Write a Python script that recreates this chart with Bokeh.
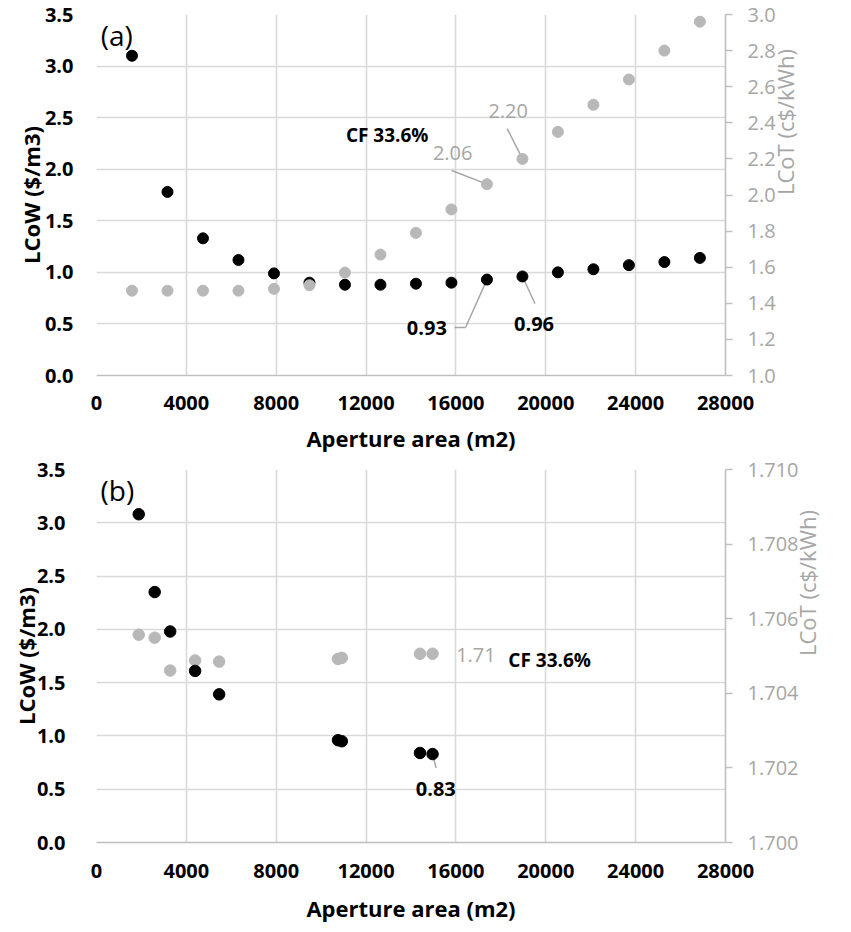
import math
from bokeh.plotting import figure
from bokeh.models import Range1d, LinearAxis, FixedTicker, NumeralTickFormatter
from bokeh.layouts import column
from bokeh.embed import file_html
from bokeh.resources import INLINE
from bokeh.core.properties import value

# ---------------- data ----------------
x_ticks = [0, 4000, 8000, 12000, 16000, 20000, 24000, 28000]
lcow_ticks = [0.0, 0.5, 1.0, 1.5, 2.0, 2.5, 3.0, 3.5]
lcot_ticks_a = [1.0, 1.2, 1.4, 1.6, 1.8, 2.0, 2.2, 2.4, 2.6, 2.8, 3.0]
lcot_ticks_b = [1.700, 1.702, 1.704, 1.706, 1.708, 1.710]

# panel (a)
aperture_a = [1580, 3160, 4740, 6320, 7900, 9480, 11060, 12640, 14220,
              15800, 17380, 18960, 20540, 22120, 23700, 25280, 26860]
lcow_a = [3.10, 1.78, 1.33, 1.12, 0.99, 0.90, 0.88, 0.88, 0.89,
          0.90, 0.93, 0.96, 1.00, 1.03, 1.07, 1.10, 1.14]
lcot_a = [1.47, 1.47, 1.47, 1.47, 1.48, 1.50, 1.57, 1.67, 1.79,
          1.92, 2.06, 2.20, 2.35, 2.50, 2.64, 2.80, 2.96]

# panel (b)
aperture_b = [1880, 2590, 3280, 4390, 5460, 10750, 10920, 14400, 14960]
lcow_b = [3.08, 2.35, 1.98, 1.61, 1.39, 0.96, 0.95, 0.84, 0.83]
lcot_b = [1.70557, 1.70549, 1.70461, 1.70488, 1.70485, 1.70492, 1.70495,
          1.70506, 1.70506]

FONT_NAME = "Open Sans"
FONT = value(FONT_NAME)
BLACK = "#000000"
GRAY_PT = "#b8b8b8"
GRAY_TX = "#a6a6a6"
GRID = "#d9d9d9"
AXLINE = "#bfbfbf"
WIDTH = 850


def base_fig(height, lb, rb, tb, bb, lcot_range, lcot_ticks, lcot_fmt,
             left_standoff, left_label_standoff, right_standoff, right_label_standoff,
             x_standoff, x_label_standoff):
    p = figure(width=WIDTH, height=height, x_range=Range1d(0, 28000),
               y_range=Range1d(0, 3.5), output_backend="svg",
               toolbar_location=None, min_border_left=lb, min_border_right=rb,
               min_border_top=tb, min_border_bottom=bb)
    p.outline_line_color = None
    p.background_fill_color = "white"
    p.border_fill_color = "white"
    p.extra_y_ranges = {"lcot": Range1d(*lcot_range)}

    for g in p.grid:
        g.grid_line_color = GRID
        g.grid_line_width = 1.6
    p.xgrid.ticker = FixedTicker(ticks=x_ticks)
    p.ygrid.ticker = FixedTicker(ticks=lcow_ticks)

    xa = p.below[0]
    xa.ticker = FixedTicker(ticks=x_ticks)
    xa.formatter = NumeralTickFormatter(format="0")
    xa.axis_label = "Aperture area (m2)"
    xa.axis_line_color = AXLINE
    xa.axis_line_width = 1.6
    xa.major_tick_line_color = None
    xa.minor_tick_line_color = None
    xa.major_tick_out = 0
    xa.major_tick_in = 0
    xa.minor_tick_out = 0
    xa.major_label_standoff = x_standoff
    xa.axis_label_standoff = x_label_standoff

    ya = p.left[0]
    ya.ticker = FixedTicker(ticks=lcow_ticks)
    ya.formatter = NumeralTickFormatter(format="0.0")
    ya.axis_label = "LCoW ($/m3)"
    ya.axis_line_color = None
    ya.major_tick_line_color = None
    ya.minor_tick_line_color = None
    ya.major_tick_out = 0
    ya.major_tick_in = 0
    ya.minor_tick_out = 0
    ya.major_label_standoff = left_standoff
    ya.axis_label_standoff = left_label_standoff

    for ax in (xa, ya):
        ax.major_label_text_font = FONT_NAME
        ax.major_label_text_font_size = "20px"
        ax.major_label_text_font_style = "bold"
        ax.major_label_text_color = BLACK
        ax.axis_label_text_font = FONT_NAME
        ax.axis_label_text_font_size = "22px"
        ax.axis_label_text_font_style = "bold"
        ax.axis_label_text_color = BLACK

    ra = LinearAxis(y_range_name="lcot", ticker=FixedTicker(ticks=lcot_ticks),
                    formatter=NumeralTickFormatter(format=lcot_fmt),
                    axis_label="LCoT (c$/kWh)")
    ra.axis_line_color = AXLINE
    ra.axis_line_width = 1.6
    ra.major_tick_line_color = AXLINE
    ra.major_tick_line_width = 1.6
    ra.major_tick_out = 7
    ra.major_tick_in = 0
    ra.minor_tick_line_color = None
    ra.minor_tick_out = 0
    ra.major_label_standoff = right_standoff
    ra.axis_label_standoff = right_label_standoff
    ra.major_label_text_font = FONT_NAME
    ra.major_label_text_font_size = "20px"
    ra.major_label_text_color = GRAY_TX
    ra.axis_label_text_font = FONT_NAME
    ra.axis_label_text_font_size = "22px"
    ra.axis_label_text_font_style = "normal"
    ra.axis_label_text_color = GRAY_TX
    try:
        ra.axis_label_orientation = math.pi / 2
    except Exception:
        pass
    p.add_layout(ra, "right")
    return p


# ---------------- panel (a) ----------------
p1 = base_fig(455, 91, WIDTH - 725, 14, 80, (1.0, 3.0), lcot_ticks_a, "0.0",
              23, -4, 15, 6, 20, 10)

# leader lines (drawn below the markers)
p1.line([16428, 15942], [0.465, 0.465], line_color=GRAY_TX, line_width=1.5)
p1.line([16428, aperture_a[10]], [0.465, lcow_a[10]], line_color=GRAY_TX, line_width=1.5)
p1.line([19519, aperture_a[11]], [0.698, lcow_a[11]], line_color=GRAY_TX, line_width=1.5)
p1.line([15810, aperture_a[10]], [2.136, lcot_a[10]], line_color=GRAY_TX,
        line_width=1.5, y_range_name="lcot")
p1.line([18282, aperture_a[11]], [2.368, lcot_a[11]], line_color=GRAY_TX,
        line_width=1.5, y_range_name="lcot")

p1.scatter(aperture_a, lcow_a, size=11, fill_color=BLACK, line_color=BLACK)
p1.scatter(aperture_a, lcot_a, size=11, fill_color=GRAY_PT, line_color=GRAY_PT,
           y_range_name="lcot")

p1.text(x=[900], y=[3.3], text=["(a)"], text_font=FONT, text_font_size="28px",
        text_color=BLACK, text_align="center", text_baseline="middle")
p1.text(x=[12940], y=[2.327], text=["CF 33.6%"], text_font=FONT,
        text_font_size="19px", text_font_style="bold", text_color=BLACK,
        text_align="center", text_baseline="middle")
p1.text(x=[14705, 19475], y=[0.465, 0.504], text=["0.93", "0.96"], text_font=FONT,
        text_font_size="20px", text_font_style="bold", text_color=BLACK,
        text_align="center", text_baseline="middle")
p1.text(x=[15855, 18327], y=[2.23, 2.463], text=["2.06", "2.20"], text_font=FONT,
        text_font_size="20px", text_color=GRAY_TX, text_align="center",
        text_baseline="middle", y_range_name="lcot")

# ---------------- panel (b) ----------------
p2 = base_fig(475, 96, WIDTH - 728, 14, 88, (1.700, 1.710), lcot_ticks_b, "0.000",
              31, -7, 15, 6, 21, 12)

p2.line([15116, aperture_b[8]], [0.70, lcow_b[8]], line_color=GRAY_TX, line_width=1.5)

p2.scatter(aperture_b, lcot_b, size=11.5, fill_color=GRAY_PT, line_color=GRAY_PT,
           y_range_name="lcot")
p2.scatter(aperture_b, lcow_b, size=11.5, fill_color=BLACK, line_color=BLACK)

p2.text(x=[930], y=[3.305], text=["(b)"], text_font=FONT, text_font_size="28px",
        text_color=BLACK, text_align="center", text_baseline="middle")
p2.text(x=[16890], y=[1.764], text=["1.71"], text_font=FONT, text_font_size="20px",
        text_color=GRAY_TX, text_align="center", text_baseline="middle")
p2.text(x=[20170], y=[1.717], text=["CF 33.6%"], text_font=FONT,
        text_font_size="19px", text_font_style="bold", text_color=BLACK,
        text_align="center", text_baseline="middle")
p2.text(x=[15103], y=[0.505], text=["0.83"], text_font=FONT, text_font_size="20px",
        text_font_style="bold", text_color=BLACK, text_align="center",
        text_baseline="middle")

layout = column(p1, p2, spacing=0)
open("out.html", "w").write(file_html(layout, INLINE))
